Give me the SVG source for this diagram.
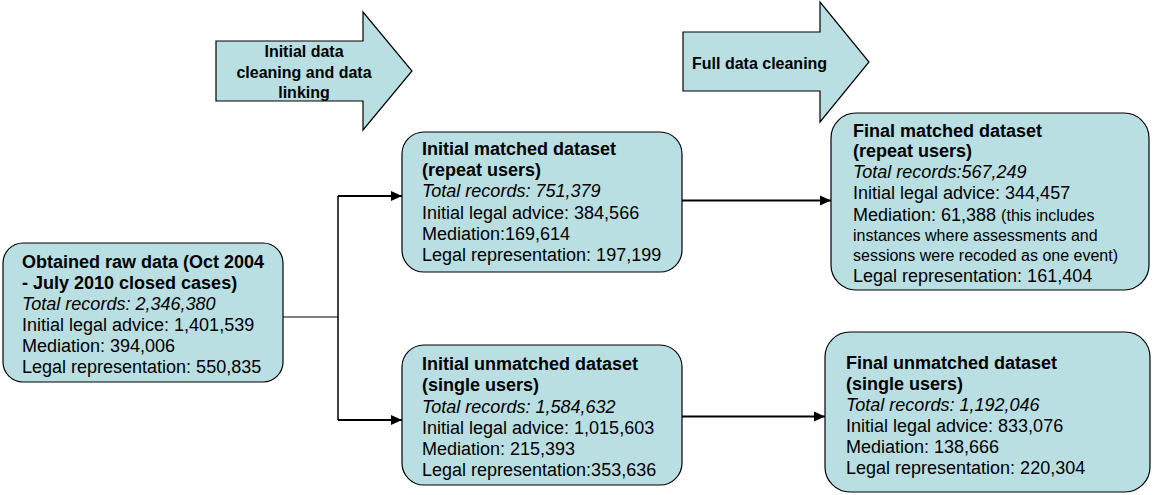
<svg xmlns="http://www.w3.org/2000/svg" width="1155" height="495" viewBox="0 0 1155 495">
<style>
.box{fill:#b9dfe3;stroke:#000;stroke-width:1.2}
.t{font-family:"Liberation Sans",Arial,sans-serif;font-size:18px;fill:#000}
.b{font-weight:bold}
.i{font-style:italic}
.s{font-size:16px}
.at{font-family:"Liberation Sans",Arial,sans-serif;font-size:16px;font-weight:bold;fill:#000}
.c{fill:none;stroke:#000}
</style>
<defs>
<marker id="ah" markerUnits="userSpaceOnUse" markerWidth="12" markerHeight="12" refX="11" refY="6" orient="auto">
<path d="M0,1 L11,6 L0,11 z" fill="#000"/>
</marker>
</defs>
<rect width="1155" height="495" fill="#fff"/>

<g id="step1">
<path class="box" d="M216,41 H363 V12 L412,71 L363,130 V101 H216 Z"/>
<text class="at" text-anchor="middle" x="304" y="57">Initial data</text>
<text class="at" text-anchor="middle" x="304" y="78">cleaning and data</text>
<text class="at" text-anchor="middle" x="304" y="98">linking</text>
</g>

<g id="step2">
<path class="box" d="M683,32 H820 V2 L869,62 L820,122 V91 H683 Z"/>
<text class="at" x="692" y="69">Full data cleaning</text>
</g>

<g id="connectors">
<path class="c" stroke-width="1" d="M283,317 H338"/>
<path class="c" stroke-width="1.5" d="M338,196 V420"/>
<path class="c" stroke-width="2" d="M338,196 H402" marker-end="url(#ah)"/>
<path class="c" stroke-width="2" d="M338,420 H402" marker-end="url(#ah)"/>
<path class="c" stroke-width="2" d="M682,200.5 H831" marker-end="url(#ah)"/>
<path class="c" stroke-width="2" d="M682,416.5 H825" marker-end="url(#ah)"/>
</g>

<g id="raw">
<rect class="box" x="3" y="243" width="280" height="139" rx="20"/>
<text class="t b" x="22" y="268">Obtained raw data (Oct 2004</text>
<text class="t b" x="22" y="289">- July 2010 closed cases)</text>
<text class="t i" x="22" y="310">Total records: 2,346,380</text>
<text class="t" x="22" y="331">Initial legal advice: 1,401,539</text>
<text class="t" x="22" y="352">Mediation: 394,006</text>
<text class="t" x="22" y="373">Legal representation: 550,835</text>
</g>

<g id="initial-matched">
<rect class="box" x="402" y="132" width="280" height="140" rx="22"/>
<text class="t b" x="422" y="155">Initial matched dataset</text>
<text class="t b" x="422" y="176">(repeat users)</text>
<text class="t i" x="422" y="197">Total records: 751,379</text>
<text class="t" x="422" y="219">Initial legal advice: 384,566</text>
<text class="t" x="422" y="240">Mediation:169,614</text>
<text class="t" x="422" y="261">Legal representation: 197,199</text>
</g>

<g id="initial-unmatched">
<rect class="box" x="402" y="345" width="280" height="140" rx="22"/>
<text class="t b" x="422" y="370">Initial unmatched dataset</text>
<text class="t b" x="422" y="391">(single users)</text>
<text class="t i" x="422" y="413">Total records: 1,584,632</text>
<text class="t" x="422" y="434">Initial legal advice: 1,015,603</text>
<text class="t" x="422" y="455">Mediation: 215,393</text>
<text class="t" x="422" y="476">Legal representation:353,636</text>
</g>

<g id="final-matched">
<rect class="box" x="831" y="113" width="318" height="177" rx="25"/>
<text class="t b" x="853" y="137">Final matched dataset</text>
<text class="t b" x="853" y="157">(repeat users)</text>
<text class="t i" x="853" y="178">Total records:567,249</text>
<text class="t" x="853" y="199">Initial legal advice: 344,457</text>
<text class="t" x="853" y="221">Mediation: 61,388 <tspan class="s">(this includes</tspan></text>
<text class="t s" x="853" y="241">instances where assessments and</text>
<text class="t s" x="853" y="261">sessions were recoded as one event)</text>
<text class="t" x="853" y="282">Legal representation: 161,404</text>
</g>

<g id="final-unmatched">
<rect class="box" x="825" y="332" width="325" height="160" rx="25"/>
<text class="t b" x="846" y="369">Final unmatched dataset</text>
<text class="t b" x="846" y="390">(single users)</text>
<text class="t i" x="846" y="411">Total records: 1,192,046</text>
<text class="t" x="846" y="432">Initial legal advice: 833,076</text>
<text class="t" x="846" y="453">Mediation: 138,666</text>
<text class="t" x="846" y="474">Legal representation: 220,304</text>
</g>
</svg>
